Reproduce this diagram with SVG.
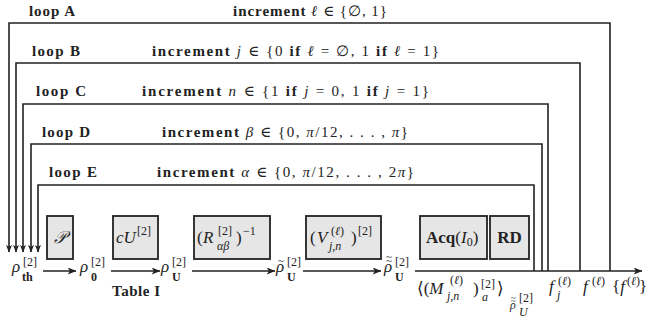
<svg xmlns="http://www.w3.org/2000/svg" width="646" height="320" viewBox="0 0 646 320">
<style>
.t{font-family:"Liberation Serif","DejaVu Serif",serif;fill:#222}
.b{font-weight:bold}
.i{font-style:italic}
.lb{font-size:15px;font-weight:bold}
.m{font-size:17px}
.s{font-size:12px}
.td{font-size:11px}
.box{fill:#e6e6e6;stroke:#222;stroke-width:1.8}
.ln{fill:none;stroke:#222;stroke-width:1.6}
</style>
<defs>
<marker id="ah" viewBox="0 0 10 8" refX="9.5" refY="4" markerWidth="10" markerHeight="7" orient="auto" markerUnits="userSpaceOnUse">
<path d="M0,0 L10,4 L0,8 L2.5,4 z" fill="#222"/>
</marker>
<marker id="ad" viewBox="0 0 10 8" refX="9.5" refY="4" markerWidth="9" markerHeight="6" orient="auto" markerUnits="userSpaceOnUse">
<path d="M0,0 L10,4 L0,8 L2.5,4 z" fill="#222"/>
</marker>
</defs>

<g id="connectors">
<path class="ln" d="M610 271 V23 H9 V252" marker-end="url(#ad)"/>
<path class="ln" d="M580 271 V63 H16 V252" marker-end="url(#ad)"/>
<path class="ln" d="M548 271 V104 H23 V252" marker-end="url(#ad)"/>
<path class="ln" d="M542 271 V144 H31 V252" marker-end="url(#ad)"/>
<path class="ln" d="M534 271 V185 H38 V252" marker-end="url(#ad)"/>
<line class="ln" x1="43" y1="271" x2="76" y2="271" marker-end="url(#ah)"/>
<line class="ln" x1="111" y1="271" x2="160" y2="271" marker-end="url(#ah)"/>
<line class="ln" x1="192" y1="271" x2="275" y2="271" marker-end="url(#ah)"/>
<line class="ln" x1="303" y1="271" x2="381" y2="271" marker-end="url(#ah)"/>
<line class="ln" x1="415" y1="271" x2="642" y2="271" marker-end="url(#ah)"/>
</g>

<g id="loop-labels">
<text class="t lb" x="29" y="16" textLength="46">loop A</text>
<text class="t" x="233" y="16" font-size="15" textLength="154"><tspan class="b">increment</tspan> <tspan class="i">ℓ</tspan> ∈ {∅, 1}</text>
<text class="t lb" x="32" y="56" textLength="48">loop B</text>
<text class="t" x="152" y="56" font-size="15" textLength="287"><tspan class="b">increment</tspan> <tspan class="i">j</tspan> ∈ {0 <tspan class="b">if</tspan> <tspan class="i">ℓ</tspan> = ∅, 1 <tspan class="b">if</tspan> <tspan class="i">ℓ</tspan> = 1}</text>
<text class="t lb" x="36" y="96" textLength="50">loop C</text>
<text class="t" x="142" y="96" font-size="15" textLength="287"><tspan class="b">increment</tspan> <tspan class="i">n</tspan> ∈ {1 <tspan class="b">if</tspan> <tspan class="i">j</tspan> = 0, 1 <tspan class="b">if</tspan> <tspan class="i">j</tspan> = 1}</text>
<text class="t lb" x="42" y="137" textLength="48">loop D</text>
<text class="t" x="162" y="137" font-size="15" textLength="246"><tspan class="b">increment</tspan> <tspan class="i">β</tspan> ∈ {0, <tspan class="i">π</tspan>/12, . . . , <tspan class="i">π</tspan>}</text>
<text class="t lb" x="49" y="177" textLength="48">loop E</text>
<text class="t" x="157" y="177" font-size="15" textLength="257"><tspan class="b">increment</tspan> <tspan class="i">α</tspan> ∈ {0, <tspan class="i">π</tspan>/12, . . . , 2<tspan class="i">π</tspan>}</text>
</g>

<g id="node-P">
<rect class="box" x="47" y="216" width="26" height="43"/>
<text class="t i m" x="60" y="243" text-anchor="middle">𝒫</text>
</g>
<g id="node-cU">
<rect class="box" x="113" y="216" width="45" height="43"/>
<text class="t"><tspan class="i m" x="116" y="243">cU</tspan><tspan class="s" x="137" y="235">[2]</tspan></text>
</g>
<g id="node-R">
<rect class="box" x="194" y="216" width="76" height="43"/>
<text class="t"><tspan class="m" x="197" y="243">(</tspan><tspan class="i m" x="203" y="243">R</tspan><tspan class="s" x="218" y="235">[2]</tspan><tspan class="i s" x="217" y="250">αβ</tspan><tspan class="m" x="236" y="243">)</tspan><tspan class="s" x="243" y="235">−1</tspan></text>
</g>
<g id="node-V">
<rect class="box" x="306" y="216" width="75" height="43"/>
<text class="t"><tspan class="m" x="310" y="243">(</tspan><tspan class="i m" x="317" y="243">V</tspan><tspan class="s" x="331" y="235">(</tspan><tspan class="s i">ℓ</tspan><tspan class="s">)</tspan><tspan class="i s" x="329" y="250">j,n</tspan><tspan class="m" x="351" y="243">)</tspan><tspan class="s" x="358" y="235">[2]</tspan></text>
</g>
<g id="node-Acq">
<rect class="box" x="420" y="216" width="67" height="43"/>
<text class="t m" x="426" y="243"><tspan class="b">Acq</tspan>(<tspan class="i">I</tspan><tspan font-size="12" dy="3">0</tspan><tspan dy="-3">)</tspan></text>
</g>
<g id="node-RD">
<rect class="box" x="490" y="216" width="39" height="43"/>
<text class="t m b" x="509.5" y="243" text-anchor="middle">RD</text>
</g>

<g id="states">
<text class="t"><tspan class="i m" x="12" y="272">ρ</tspan><tspan class="s" x="23" y="266">[2]</tspan><tspan class="s b" x="22" y="281">th</tspan></text>
<text class="t"><tspan class="i m" x="80" y="272">ρ</tspan><tspan class="s" x="91" y="266">[2]</tspan><tspan class="s b" x="91" y="281">0</tspan></text>
<text class="t"><tspan class="i m" x="161" y="272">ρ</tspan><tspan class="s" x="172" y="266">[2]</tspan><tspan class="s b" x="172" y="281">U</tspan></text>
<text class="t"><tspan class="td" x="278" y="264">~</tspan><tspan class="i m" x="276" y="272">ρ</tspan><tspan class="s" x="287" y="266">[2]</tspan><tspan class="s b" x="287" y="281">U</tspan></text>
<text class="t"><tspan class="td" x="386" y="259.5">~</tspan><tspan class="td" x="386" y="264">~</tspan><tspan class="i m" x="384" y="272">ρ</tspan><tspan class="s" x="395" y="266">[2]</tspan><tspan class="s b" x="395" y="281">U</tspan></text>
<text class="t b" x="112" y="296" font-size="15" textLength="48">Table I</text>
</g>

<g id="outputs">
<text class="t"><tspan class="m" x="417" y="294">⟨(</tspan><tspan class="m i">M</tspan><tspan class="s" x="450" y="284">(</tspan><tspan class="s i">ℓ</tspan><tspan class="s">)</tspan><tspan class="i s" x="447" y="300">j,n</tspan><tspan class="m" x="473" y="294">)</tspan><tspan class="s" x="481" y="288">[2]</tspan><tspan class="i s" x="482" y="301">a</tspan><tspan class="m" x="497" y="294">⟩</tspan><tspan font-size="9" x="511" y="301">~</tspan><tspan font-size="9" x="511" y="304">~</tspan><tspan class="i s" x="510" y="309">ρ</tspan><tspan class="s" x="519" y="302">[2]</tspan><tspan class="i s" x="519" y="316">U</tspan></text>
<text class="t"><tspan class="i m" x="549" y="292">f</tspan><tspan class="s" x="558" y="285">(</tspan><tspan class="s i">ℓ</tspan><tspan class="s">)</tspan><tspan class="i s" x="557" y="299">j</tspan></text>
<text class="t"><tspan class="i m" x="583" y="292">f</tspan><tspan class="s" x="592" y="285">(</tspan><tspan class="s i">ℓ</tspan><tspan class="s">)</tspan></text>
<text class="t"><tspan class="m" x="612" y="292">{</tspan><tspan class="m i">f</tspan><tspan class="s" x="627" y="285">(</tspan><tspan class="s i">ℓ</tspan><tspan class="s">)</tspan><tspan class="m" x="639" y="292">}</tspan></text>
</g>
</svg>
